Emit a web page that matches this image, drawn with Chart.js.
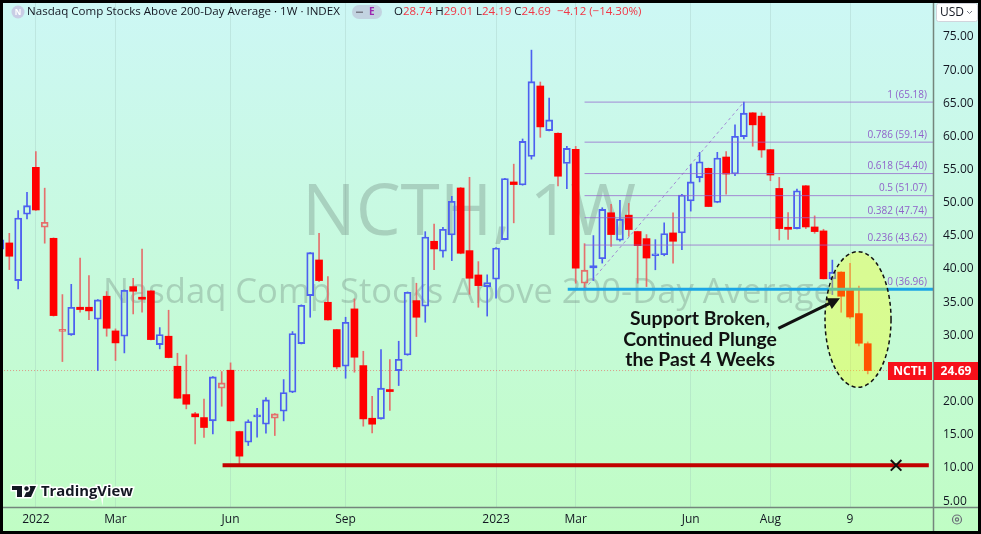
<!DOCTYPE html>
<html>
<head>
<meta charset="utf-8">
<script src="https://cdn.jsdelivr.net/npm/chart.js@4.4.0/dist/chart.umd.min.js"></script>
<style>
  html, body { margin: 0; padding: 0; overflow: hidden; background: #fff; }
  #wrap { width: 981px; height: 534px; }
</style>
</head>
<body>
<div id="wrap"><canvas id="c" width="981" height="534"></canvas></div>
<script>
// weekly candles, first one is the half-hidden week at the left edge
const weekOpen  = [43.00, 43.94, 38.26, 48.26, 55.34, 46.30, 44.64, 30.60, 30.07, 34.24,
  34.24, 32.43, 35.90, 30.67, 29.87, 37.35, 35.55, 36.70, 28.60, 29.87,
  25.34, 21.07, 18.16, 17.60, 17.10, 22.03, 24.74, 15.49, 13.89, 17.70,
  16.60, 17.50, 18.56, 21.42, 28.76, 36.00, 41.37, 34.99, 30.87, 25.34,
  33.99, 25.44, 17.50, 17.40, 21.62, 24.69, 27.05, 35.24, 34.39, 44.19,
  42.68, 45.14, 52.23, 42.78, 39.11, 37.36, 38.47, 44.44, 53.14, 52.69,
  56.99, 67.61, 60.88, 60.48, 55.92, 58.05, 37.87, 40.45, 41.56, 48.49,
  44.34, 48.13, 45.66, 44.59, 42.01, 42.16, 45.45, 45.45, 50.26, 53.80,
  55.19, 50.04, 56.90, 54.33, 59.98, 63.56, 63.06, 58.01, 52.16, 46.20,
  46.10, 52.56, 46.35, 45.75, 38.53, 39.54, 37.01, 33.28, 28.74];
const weekHigh  = [45.50, 45.39, 48.81, 51.57, 57.70, 52.20, 44.70, 36.15, 37.70, 41.67,
  39.01, 35.40, 36.60, 30.97, 36.85, 38.60, 43.03, 36.75, 31.17, 33.79,
  27.30, 27.05, 18.40, 20.40, 23.80, 24.54, 25.85, 15.55, 17.25, 19.01,
  20.62, 18.20, 23.33, 30.57, 34.60, 42.50, 45.39, 38.86, 30.90, 32.73,
  35.50, 27.60, 20.82, 27.86, 26.35, 29.11, 36.55, 37.86, 45.64, 46.80,
  46.30, 50.97, 52.30, 53.84, 41.12, 39.13, 43.25, 53.70, 55.82, 59.62,
  73.02, 68.21, 65.79, 60.55, 58.50, 58.50, 43.83, 45.05, 49.25, 49.75,
  50.36, 49.90, 45.70, 45.20, 44.44, 46.97, 48.49, 51.27, 55.82, 57.59,
  55.25, 57.61, 57.71, 61.75, 65.18, 63.60, 63.56, 58.05, 53.82, 48.52,
  52.06, 52.60, 48.02, 46.00, 41.35, 39.60, 40.85, 37.42, 29.01];
const weekLow   = [41.50, 39.92, 37.00, 47.55, 48.85, 43.90, 32.90, 26.05, 30.00, 33.48,
  32.38, 24.69, 29.87, 26.20, 27.35, 33.23, 33.48, 29.30, 27.96, 26.60,
  20.50, 18.91, 13.63, 14.59, 15.14, 19.31, 17.05, 10.52, 13.38, 14.64,
  15.24, 14.89, 17.10, 21.35, 28.70, 32.73, 38.10, 32.30, 24.94, 23.53,
  24.44, 16.30, 15.29, 17.35, 18.66, 22.43, 27.00, 29.82, 31.98, 39.92,
  41.78, 41.27, 42.30, 36.20, 34.24, 32.91, 35.59, 44.40, 46.97, 52.65,
  56.58, 59.87, 60.85, 52.53, 52.13, 37.87, 36.96, 38.27, 40.90, 43.43,
  44.19, 44.95, 37.87, 37.36, 39.89, 42.00, 40.90, 42.92, 48.74, 53.14,
  49.40, 50.00, 51.30, 54.07, 59.63, 58.52, 56.85, 53.32, 44.38, 44.48,
  46.05, 46.10, 45.39, 38.50, 36.15, 33.48, 32.57, 28.40, 24.19];
const weekClose = [44.40, 41.93, 47.70, 49.56, 48.91, 47.05, 32.98, 30.70, 34.24, 33.89,
  33.69, 35.34, 31.07, 28.86, 36.80, 36.65, 35.45, 29.36, 30.12, 26.65,
  20.52, 19.61, 17.71, 16.10, 23.74, 22.83, 17.10, 11.78, 17.00, 17.90,
  20.27, 18.16, 21.37, 30.27, 34.54, 42.48, 38.26, 32.33, 25.24, 31.98,
  26.70, 17.40, 16.60, 22.03, 21.52, 26.40, 36.50, 32.73, 44.84, 43.03,
  46.00, 50.22, 42.38, 38.61, 37.50, 37.97, 43.18, 53.65, 52.74, 59.26,
  68.27, 61.44, 62.50, 54.00, 58.20, 40.14, 39.84, 40.19, 48.99, 45.20,
  47.53, 45.96, 43.53, 41.66, 42.22, 45.35, 44.19, 51.17, 53.14, 56.18,
  49.43, 56.75, 54.33, 60.03, 63.51, 61.75, 57.96, 54.18, 46.10, 46.00,
  51.80, 46.35, 45.65, 38.53, 39.54, 35.90, 32.77, 28.81, 24.69];
const firstWeek = -1;

const timeTicks  = [3, 12, 25, 38, 55, 64, 77, 86, 95];
const timeLabels = ['2022', 'Mar', 'Jun', 'Sep', '2023', 'Mar', 'Jun', 'Aug', '9'];
const priceTicks = [5, 10, 15, 20, 25, 30, 35, 40, 45, 50, 55, 60, 65, 70, 75];

const fibRatios = ['1', '0.786', '0.618', '0.5', '0.382', '0.236', '0'];
const fibLevels = [65.18, 59.14, 54.40, 51.07, 47.74, 43.62, 36.96];
const fibStartWeek = 65;
const swingHighWeek = 83;

const supportLevel = 36.96;
const supportStartWeek = 63.1;
const floorLevel = 10.4;
const floorWeeks = [24.1, 103.9];
const floorMarkWeek = 100.2;

const noteLines = ['Support Broken,', 'Continued Plunge', 'the Past 4 Weeks'];
const noteWeek = 78.05;
const noteValues = [32.57, 29.4, 26.28];
const arrowFrom = { x: 86.9, y: 31.06 };
const arrowTo = { x: 93.86, y: 35.59 };
const circleBox = { x0: 92.17, x1: 99.63, y0: 22.16, y1: 42.62 };

// pixel calibration of the reference: week 0 at x=9.3, 8.85px per week; 75 at y=37, 6.63px per point
const WEEK_PX = 8.85, WEEK0_X = 9.3, PT_PX = 6.63, P75_Y = 37;

const UP = '#4d60f0';
const DOWN = '#ff0000';
const DOWN_WICK = 'rgba(232,96,96,0.9)';
const FIB = 'rgba(150,100,205,0.75)';
const DARK = '#131722';
const FONT = "'Open Sans', sans-serif";

const weeks = weekOpen.map((_, i) => firstWeek + i);
const last = weekClose.length - 1;
const isUp = weekClose.map((c, i) => c >= (i ? weekClose[i - 1] : weekOpen[i]));
const isHollow = weekClose.map((c, i) => c > weekOpen[i]);
const wickColor = isUp.map(u => u ? UP : DOWN_WICK);

let X_MIN = (3 - WEEK0_X) / WEEK_PX, X_MAX = (933 - WEEK0_X) / WEEK_PX;
let Y_MAX = 75 - (3 - P75_Y) / PT_PX, Y_MIN = 75 - (507 - P75_Y) / PT_PX;

function hLine(y, x0, x1, color, width, dash, order) {
  return {
    type: 'line', data: [{ x: x0, y: y }, { x: x1, y: y }],
    borderColor: color, borderWidth: width, borderDash: dash || [],
    pointRadius: 0, pointHoverRadius: 0, order: order
  };
}

const datasets = [
  hLine(weekClose[last], -5, 110, 'rgba(225,120,110,0.75)', 1, [1, 2], 30),
  {
    type: 'bar', order: 20, grouped: false, barThickness: 1,
    data: weeks.map((w, i) => ({ x: w, y: [Math.max(weekOpen[i], weekClose[i]), weekHigh[i]] })),
    backgroundColor: wickColor
  },
  {
    type: 'bar', order: 20, grouped: false, barThickness: 1,
    data: weeks.map((w, i) => ({ x: w, y: [weekLow[i], Math.min(weekOpen[i], weekClose[i])] })),
    backgroundColor: wickColor
  },
  {
    type: 'bar', order: 19, grouped: false, barThickness: 7, minBarLength: 2,
    borderSkipped: false,
    data: weeks.map((w, i) => ({ x: w, y: [weekOpen[i], weekClose[i]] })),
    backgroundColor: weeks.map((_, i) => isHollow[i] ? 'rgba(0,0,0,0)' : (isUp[i] ? UP : DOWN)),
    borderColor: weeks.map((_, i) => isUp[i] ? UP : DOWN_WICK),
    borderWidth: weeks.map((_, i) => isHollow[i] ? 1.2 : 0)
  }
];

fibLevels.forEach(v => datasets.push(hLine(v, fibStartWeek, 110, FIB, 1, [], 10)));
datasets.push({
  type: 'line', order: 9, pointRadius: 0, pointHoverRadius: 0, borderWidth: 1, borderColor: FIB, borderDash: [3, 3],
  data: [{ x: fibStartWeek, y: fibLevels[fibLevels.length - 1] }, { x: swingHighWeek, y: fibLevels[0] }]
});
datasets.push(hLine(supportLevel, supportStartWeek, 110, '#1ba6e6', 3, [], 8));
datasets.push(hLine(floorLevel, floorWeeks[0], floorWeeks[1], '#c20000', 4, [], 7));
datasets.push({
  type: 'line', order: 6, showLine: false, data: [{ x: floorMarkWeek, y: floorLevel }],
  pointStyle: 'crossRot', pointRadius: 7.5, pointBorderWidth: 2, pointBorderColor: '#111',
  borderColor: '#111'
});

function fitFont(ctx, text, weight, target, family) {
  ctx.font = weight + ' 20px ' + family;
  const w = ctx.measureText(text).width;
  return 20 * target / w;
}

const decor = {
  id: 'decor',
  beforeDraw(chart) {
    const { ctx, width, height } = chart;
    const g = ctx.createLinearGradient(0, 0, 0, height);
    g.addColorStop(0, '#cdf7f5');
    g.addColorStop(1, '#c0fdc4');
    ctx.save();
    ctx.fillStyle = g;
    ctx.fillRect(0, 0, width, height);
    ctx.restore();
  },
  beforeDatasetsDraw(chart) {
    const { ctx, chartArea: a } = chart;
    const cx = (a.left + a.right) / 2;
    ctx.save();
    ctx.fillStyle = 'rgba(95,115,110,0.3)';
    ctx.textAlign = 'center';
    ctx.textBaseline = 'middle';
    ctx.font = fitFont(ctx, 'NCTH, 1W', 'normal', 334, FONT).toFixed(2) + 'px ' + FONT;
    ctx.fillText('NCTH, 1W', cx + 1, 215);
    ctx.font = fitFont(ctx, 'Nasdaq Comp Stocks Above 200-Day Average', 'normal', 730, FONT).toFixed(2) + 'px ' + FONT;
    ctx.fillText('Nasdaq Comp Stocks Above 200-Day Average', cx, 293);
    ctx.restore();
  },
  afterDatasetsDraw(chart) {
    const { ctx, chartArea: a, scales: { x, y } } = chart;
    ctx.save();
    // fib labels
    ctx.font = '10px ' + FONT;
    ctx.fillStyle = 'rgba(140,90,200,0.95)';
    ctx.textAlign = 'right';
    ctx.textBaseline = 'bottom';
    fibLevels.forEach((v, i) => {
      ctx.fillText(fibRatios[i] + ' (' + v.toFixed(2) + ')', a.right - 6, y.getPixelForValue(v) - 2);
    });
    // highlight ellipse
    const ex0 = x.getPixelForValue(circleBox.x0), ex1 = x.getPixelForValue(circleBox.x1);
    const ey0 = y.getPixelForValue(circleBox.y1), ey1 = y.getPixelForValue(circleBox.y0);
    ctx.beginPath();
    ctx.ellipse((ex0 + ex1) / 2, (ey0 + ey1) / 2, (ex1 - ex0) / 2, (ey1 - ey0) / 2, 0, 0, Math.PI * 2);
    ctx.fillStyle = 'rgba(255,255,0,0.33)';
    ctx.fill();
    ctx.setLineDash([4, 3]);
    ctx.lineWidth = 1.5;
    ctx.strokeStyle = '#111';
    ctx.stroke();
    ctx.setLineDash([]);
    // note
    ctx.fillStyle = '#111';
    ctx.textAlign = 'center';
    ctx.textBaseline = 'middle';
    ctx.font = 'bold ' + fitFont(ctx, noteLines[1], 'bold', 154, 'Lato').toFixed(2) + 'px Lato, ' + FONT;
    noteLines.forEach((t, i) => ctx.fillText(t, x.getPixelForValue(noteWeek), y.getPixelForValue(noteValues[i])));
    // arrow
    const ax0 = x.getPixelForValue(arrowFrom.x), ay0 = y.getPixelForValue(arrowFrom.y);
    const ax1 = x.getPixelForValue(arrowTo.x), ay1 = y.getPixelForValue(arrowTo.y);
    const ang = Math.atan2(ay1 - ay0, ax1 - ax0);
    ctx.strokeStyle = '#111';
    ctx.lineWidth = 3;
    ctx.beginPath();
    ctx.moveTo(ax0, ay0);
    ctx.lineTo(ax1 - 8 * Math.cos(ang), ay1 - 8 * Math.sin(ang));
    ctx.stroke();
    ctx.beginPath();
    ctx.moveTo(ax1, ay1);
    ctx.lineTo(ax1 - 12 * Math.cos(ang) + 6 * Math.sin(ang), ay1 - 12 * Math.sin(ang) - 6 * Math.cos(ang));
    ctx.lineTo(ax1 - 12 * Math.cos(ang) - 6 * Math.sin(ang), ay1 - 12 * Math.sin(ang) + 6 * Math.cos(ang));
    ctx.closePath();
    ctx.fillStyle = '#111';
    ctx.fill();
    ctx.restore();
  },
  afterDraw(chart) {
    const { ctx, width, height, chartArea: a, scales: { y } } = chart;
    ctx.save();
    // pane separators
    ctx.strokeStyle = '#74857c';
    ctx.lineWidth = 1.5;
    ctx.beginPath();
    ctx.moveTo(a.right + 0.5, 0); ctx.lineTo(a.right + 0.5, height);
    ctx.moveTo(0, a.bottom + 0.5); ctx.lineTo(width, a.bottom + 0.5);
    ctx.stroke();

    // header
    ctx.fillStyle = 'rgba(200,202,228,0.95)';
    ctx.beginPath(); ctx.arc(18, 12, 6.5, 0, Math.PI * 2); ctx.fill();
    ctx.fillStyle = '#fff';
    ctx.font = 'bold 8px ' + FONT;
    ctx.textAlign = 'center'; ctx.textBaseline = 'middle';
    ctx.fillText('N', 18, 12.5);
    ctx.textAlign = 'left';
    const title = 'Nasdaq Comp Stocks Above 200-Day Average · 1W · INDEX';
    ctx.font = fitFont(ctx, title, 'normal', 313, FONT).toFixed(2) + 'px ' + FONT;
    ctx.fillStyle = DARK;
    ctx.fillText(title, 27, 12);
    ctx.fillStyle = 'rgba(190,195,215,0.7)';
    ctx.beginPath(); ctx.roundRect(352, 5, 30, 14, 7); ctx.fill();
    ctx.fillStyle = '#787b86';
    ctx.fillRect(356, 11.5, 7, 1.5);
    ctx.fillStyle = '#9c27b0';
    ctx.font = 'bold 10px ' + FONT;
    ctx.fillText('E', 369, 12.5);
    const prev = weekClose[last - 1], cl = weekClose[last];
    const chg = cl - prev;
    const parts = [['O', DARK], [weekOpen[last].toFixed(2), '#f23645'], [' H', DARK], [weekHigh[last].toFixed(2), '#f23645'],
      [' L', DARK], [weekLow[last].toFixed(2), '#f23645'], [' C', DARK], [cl.toFixed(2), '#f23645'],
      ['  ' + (chg < 0 ? '−' : '+') + Math.abs(chg).toFixed(2) + ' (' + (chg < 0 ? '−' : '+') + Math.abs(chg / prev * 100).toFixed(2) + '%)', '#f23645']];
    ctx.font = '11.5px ' + FONT;
    let hx = 394;
    parts.forEach(p => { ctx.fillStyle = p[1]; ctx.fillText(p[0], hx, 12); hx += ctx.measureText(p[0]).width; });

    // USD box
    ctx.fillStyle = '#fff';
    ctx.strokeStyle = '#d1d4dc';
    ctx.lineWidth = 1;
    ctx.beginPath(); ctx.roundRect(936.5, 3.5, 41, 18, 2); ctx.fill(); ctx.stroke();
    ctx.fillStyle = DARK;
    ctx.font = '12px ' + FONT;
    ctx.fillText('USD', 940, 12.5);
    ctx.strokeStyle = '#787b86';
    ctx.beginPath(); ctx.moveTo(967, 11); ctx.lineTo(969.5, 13.5); ctx.lineTo(972, 11); ctx.stroke();

    // last price labels
    const py = Math.round(y.getPixelForValue(cl));
    ctx.fillStyle = '#f7101a';
    ctx.fillRect(888, py - 9, 44, 18);
    ctx.fillRect(a.right + 1, py - 9, 46, 18);
    ctx.fillStyle = '#fff';
    ctx.font = 'bold 12px ' + FONT;
    ctx.textAlign = 'center';
    ctx.fillText('NCTH', 910, py + 0.5);
    ctx.fillText(cl.toFixed(2), a.right + 23, py + 0.5);

    // settings icon
    ctx.strokeStyle = '#6a6d78';
    ctx.lineWidth = 1.2;
    ctx.beginPath(); ctx.arc(957, 519.5, 4.5, 0, Math.PI * 2); ctx.stroke();
    ctx.beginPath(); ctx.arc(957, 519.5, 1.6, 0, Math.PI * 2); ctx.stroke();

    // TradingView logo
    ctx.fillStyle = DARK;
    ctx.strokeStyle = '#fff';
    ctx.lineWidth = 3;
    ctx.beginPath();
    ctx.rect(12, 486, 10, 4);
    ctx.rect(17, 486, 5, 11);
    ctx.moveTo(29, 486); ctx.lineTo(36, 486); ctx.lineTo(31, 497); ctx.lineTo(24, 497); ctx.closePath();
    ctx.stroke(); ctx.fill();
    ctx.beginPath(); ctx.arc(26.5, 488.5, 2.2, 0, Math.PI * 2); ctx.stroke(); ctx.fill();
    ctx.textAlign = 'left';
    ctx.font = 'bold ' + fitFont(ctx, 'TradingView', 'bold', 92, FONT).toFixed(2) + 'px ' + FONT;
    ctx.strokeText('TradingView', 41, 492);
    ctx.fillText('TradingView', 41, 492);

    // frame
    ctx.strokeStyle = '#000';
    ctx.lineWidth = 3;
    ctx.strokeRect(1.5, 1.5, width - 3, height - 3);
    ctx.restore();
  }
};

const chart = new Chart(document.getElementById('c'), {
  type: 'bar',
  data: { datasets: datasets },
  plugins: [decor],
  options: {
    responsive: false,
    animation: false,
    events: [],
    layout: { autoPadding: false, padding: { left: 3, top: 3, right: 2, bottom: 3 } },
    plugins: { legend: { display: false }, tooltip: { enabled: false } },
    scales: {
      x: {
        type: 'linear', min: X_MIN, max: X_MAX, offset: false,
        grid: { color: 'rgba(150,185,180,0.28)', drawTicks: false, offset: false },
        border: { display: false },
        afterBuildTicks: s => { s.ticks = timeTicks.map(v => ({ value: v })); },
        afterFit: s => { s.height = 24; s.paddingLeft = 0; s.paddingRight = 0; },
        ticks: {
          autoSkip: false, maxRotation: 0, padding: 5, color: DARK,
          font: { family: FONT, size: 12 },
          callback: v => { const k = timeTicks.indexOf(v); return k < 0 ? '' : timeLabels[k]; }
        }
      },
      y: {
        type: 'linear', position: 'right', min: Y_MIN, max: Y_MAX,
        grid: { display: false, drawTicks: false },
        border: { display: false },
        afterBuildTicks: s => { s.ticks = priceTicks.map(v => ({ value: v })); },
        afterFit: s => { s.width = 46; s.paddingTop = 0; s.paddingBottom = 0; },
        ticks: {
          autoSkip: false, padding: 10, color: DARK,
          font: { family: FONT, size: 12 },
          callback: v => v.toFixed(2)
        }
      }
    }
  }
});

// keep the reference's week/price-to-pixel mapping whatever area the layout gave
const area = chart.chartArea;
chart.options.scales.x.min = (area.left - WEEK0_X) / WEEK_PX;
chart.options.scales.x.max = (area.right - WEEK0_X) / WEEK_PX;
chart.options.scales.y.max = 75 - (area.top - P75_Y) / PT_PX;
chart.options.scales.y.min = 75 - (area.bottom - P75_Y) / PT_PX;
chart.update();
</script>
</body>
</html>
